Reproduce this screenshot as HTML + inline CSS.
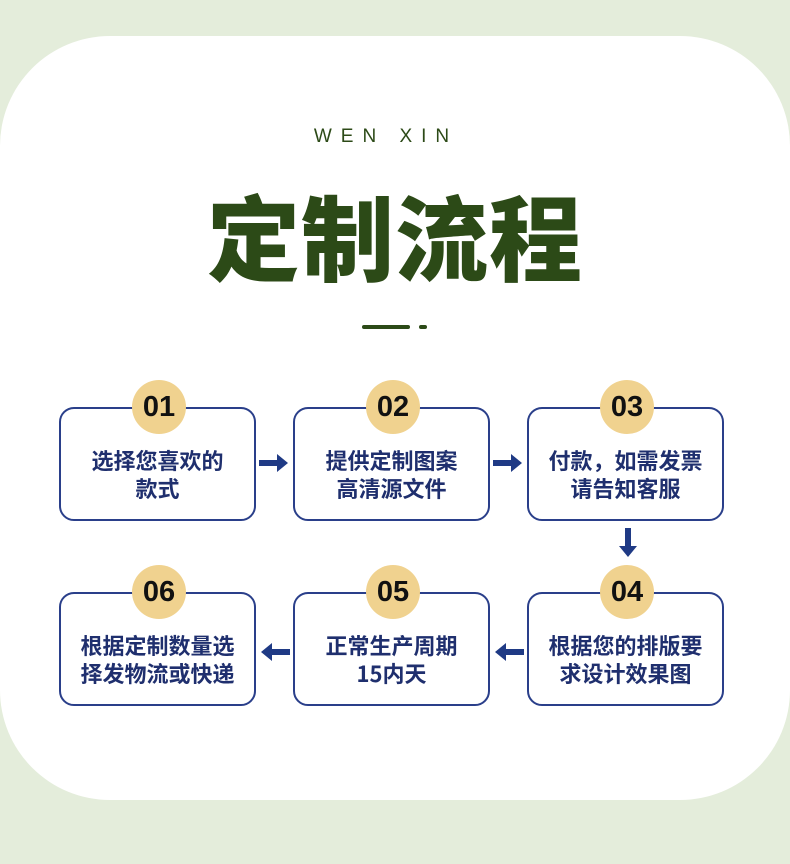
<!DOCTYPE html>
<html><head><meta charset="utf-8"><style>
*{margin:0;padding:0;box-sizing:border-box}
body{width:790px;height:864px;background:#e4eddb;position:relative;overflow:hidden;font-family:"Liberation Sans","Noto Sans CJK SC",sans-serif}
.card{position:absolute;left:0;top:36px;width:790px;height:764px;background:#fff;border-radius:110px}
.wx{position:absolute;left:0;width:790px;top:126px;text-align:center;font-size:19px;letter-spacing:9px;color:#2c4a17;padding-right:18px}
.title{position:absolute;left:0;width:790px;top:176px;text-align:center;font-size:93px;font-weight:900;color:#2c4a17;letter-spacing:1px;line-height:116px;font-family:"Noto Sans CJK SC",sans-serif}
.ln{position:absolute;top:325px;height:4px;background:#2c4a17;border-radius:2px}
.box{position:absolute;width:197px;height:114px;border:2px solid #2a3f8a;border-radius:15px;background:#fff}
.box .t{position:absolute;left:0;right:0;top:37px;text-align:center;font-size:22px;font-weight:700;line-height:28px;color:#1f2f6e;font-family:"Noto Sans CJK SC",sans-serif}
.b{position:absolute;width:54px;height:54px;border-radius:50%;background:#f0d28f;left:71px;top:-29px;text-align:center;line-height:54px;font-size:29px;font-weight:700;color:#111}
svg{position:absolute;left:0;top:0}
</style></head><body>
<div class="card"></div>
<div class="wx">WEN XIN</div>
<div class="title">定制流程</div>
<div class="ln" style="left:362px;width:48px"></div>
<div class="ln" style="left:419px;width:8px"></div>

<div class="box" style="left:59px;top:407px"><div class="b">01</div><div class="t">选择您喜欢的<br>款式</div></div>
<div class="box" style="left:293px;top:407px"><div class="b">02</div><div class="t">提供定制图案<br>高清源文件</div></div>
<div class="box" style="left:527px;top:407px"><div class="b">03</div><div class="t">付款，如需发票<br>请告知客服</div></div>
<div class="box" style="left:59px;top:592px"><div class="b">06</div><div class="t">根据定制数量选<br>择发物流或快递</div></div>
<div class="box" style="left:293px;top:592px"><div class="b">05</div><div class="t">正常生产周期<br>15内天</div></div>
<div class="box" style="left:527px;top:592px"><div class="b">04</div><div class="t">根据您的排版要<br>求设计效果图</div></div>

<svg width="790" height="864" fill="#1f3a85">
<path d="M259 460h18v-6l11 9-11 9v-6h-18z"/>
<path d="M493 460h18v-6l11 9-11 9v-6h-18z"/>
<path d="M625 528h6v18h6l-9 11-9-11h6z"/>
<path d="M524 649h-18v-6l-11 9 11 9v-6h18z"/>
<path d="M290 649h-18v-6l-11 9 11 9v-6h18z"/>
</svg>
</body></html>
